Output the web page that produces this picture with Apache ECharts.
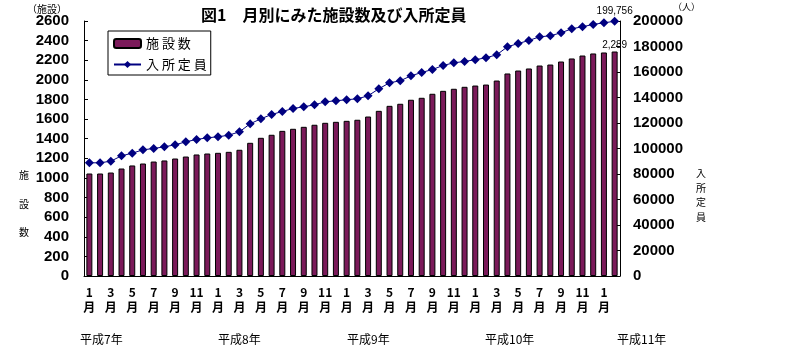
<!DOCTYPE html>
<html><head><meta charset="utf-8">
<script src="https://cdn.jsdelivr.net/npm/echarts@6/dist/echarts.min.js"></script>
<style>html,body{margin:0;padding:0;background:#fff}#c{width:806px;height:354px}</style>
</head><body><div id="c"></div>
<script>
const title = '図1　月別にみた施設数及び入所定員';
const months = [1,2,3,4,5,6,7,8,9,10,11,12, 1,2,3,4,5,6,7,8,9,10,11,12, 1,2,3,4,5,6,7,8,9,10,11,12, 1,2,3,4,5,6,7,8,9,10,11,12, 1,2];
const years = ['平成7年','平成8年','平成9年','平成10年','平成11年'];
const facilities = [1045,1045,1055,1096,1127,1147,1167,1178,1198,1218,1239,1249,
  1256,1266,1287,1358,1409,1440,1480,1501,1521,1542,1562,1572,
  1582,1593,1626,1684,1735,1756,1797,1817,1858,1888,1909,1929,
  1942,1952,1993,2065,2095,2116,2146,2156,2187,2218,2248,2269,
  2279,2289];
const capacity = [88780,88780,90040,94270,96310,98980,100000,101330,102900,105250,107060,108390,
  109180,110430,113100,119370,123290,126670,129020,131370,132710,134270,136630,137410,
  138270,138980,141330,146820,151530,153100,157020,159610,161960,165100,167220,168240,
  169650,171140,173490,179760,182350,184710,187610,188390,190750,193880,195500,197300,
  198600,199756];
const leftAxis = {min:0, max:2600, interval:200, unit:'（施設）', name:'施設数'};
const rightAxis = {min:0, max:200000, interval:20000, unit:'（人）', name:'入所定員'};

const jp = '"Noto Sans CJK JP", sans-serif';
const num = '"Liberation Sans", Arial, sans-serif';
const last = facilities.length - 1;
const fmt = v => v.toLocaleString('en-US');

const chart = echarts.init(document.getElementById('c'));
chart.setOption({
  animation:false,
  backgroundColor:'#fff',
  title:{text:title, left:196, top:2, textStyle:{fontFamily:jp, fontSize:16, fontWeight:'bold', color:'#000'}},
  legend:{
    orient:'vertical', left:108, top:31,
    borderColor:'#000', borderWidth:1, padding:[6,4,4,5], itemGap:8,
    itemWidth:27, itemHeight:9,
    textStyle:{fontFamily:jp, fontSize:13, color:'#000'},
    formatter: n => n.split('').join(' '),
    data:[leftAxis.name, rightAxis.name]
  },
  grid:{left:84, right:186, top:21, bottom:78},
  xAxis:{
    type:'category', data:months.map(String),
    axisLine:{lineStyle:{color:'#000', width:1}},
    axisTick:{inside:true, length:4, interval:0, lineStyle:{color:'#000'}},
    axisLabel:{interval:1, margin:9, formatter:v => v + '\n月', fontFamily:jp, fontWeight:'bold', fontSize:12, color:'#000', lineHeight:15}
  },
  yAxis:[
    {type:'value', min:leftAxis.min, max:leftAxis.max, interval:leftAxis.interval, position:'left',
     splitLine:{show:false},
     axisLine:{show:true, lineStyle:{color:'#000'}},
     axisTick:{show:true, inside:true, length:4, lineStyle:{color:'#000'}},
     axisLabel:{formatter:v => String(v), fontFamily:num, fontWeight:'bold', fontSize:15, color:'#000', margin:15}},
    {type:'value', min:rightAxis.min, max:rightAxis.max, interval:rightAxis.interval, position:'right',
     splitLine:{show:false},
     axisLine:{show:true, lineStyle:{color:'#000'}},
     axisTick:{show:true, inside:true, length:4, lineStyle:{color:'#000'}},
     axisLabel:{formatter:v => String(v), fontFamily:num, fontWeight:'bold', fontSize:15, color:'#000', margin:13}}
  ],
  series:[
    {name:leftAxis.name, type:'bar', yAxisIndex:0, barWidth:6,
     itemStyle:{color:'#7b1a5a', borderColor:'#000', borderWidth:1},
     data:facilities.map((v,i)=> i===last ? {value:v, label:{show:true, position:'top', distance:3, offset:[0,2], formatter:()=>fmt(v), fontFamily:num, fontSize:10, color:'#000'}} : v)},
    {name:rightAxis.name, type:'line', yAxisIndex:1, z:5, showAllSymbol:true,
     lineStyle:{color:'#000080', width:1}, itemStyle:{color:'#000080'},
     symbol:'diamond', symbolSize:9,
     labelLayout:{hideOverlap:false},
     data:capacity.map((v,i)=> i===last ? {value:v, label:{show:true, position:'top', distance:1, offset:[-5,3], formatter:()=>fmt(v), fontFamily:num, fontSize:10, color:'#000'}} : v)}
  ],
  graphic:[
    {type:'text', left:27, top:4, style:{text:leftAxis.unit, font:'10px '+jp, fill:'#000'}},
    {type:'text', left:673, top:2, style:{text:rightAxis.unit, font:'9px '+jp, fill:'#000'}},
    {type:'text', left:19, top:161, style:{text:leftAxis.name.split('').join('\n'), font:'10px '+jp, fill:'#000', lineHeight:28.5}},
    {type:'text', left:696, top:166, style:{text:rightAxis.name.split('').join('\n'), font:'10px '+jp, fill:'#000', lineHeight:14.5}},
    {type:'text', left:80, top:333, style:{text:years[0], font:'12px '+jp, fill:'#000'}},
    {type:'text', left:218, top:333, style:{text:years[1], font:'12px '+jp, fill:'#000'}},
    {type:'text', left:347, top:333, style:{text:years[2], font:'12px '+jp, fill:'#000'}},
    {type:'text', left:485, top:333, style:{text:years[3], font:'12px '+jp, fill:'#000'}},
    {type:'text', left:617, top:333, style:{text:years[4], font:'12px '+jp, fill:'#000'}}
  ]
});
</script></body></html>
